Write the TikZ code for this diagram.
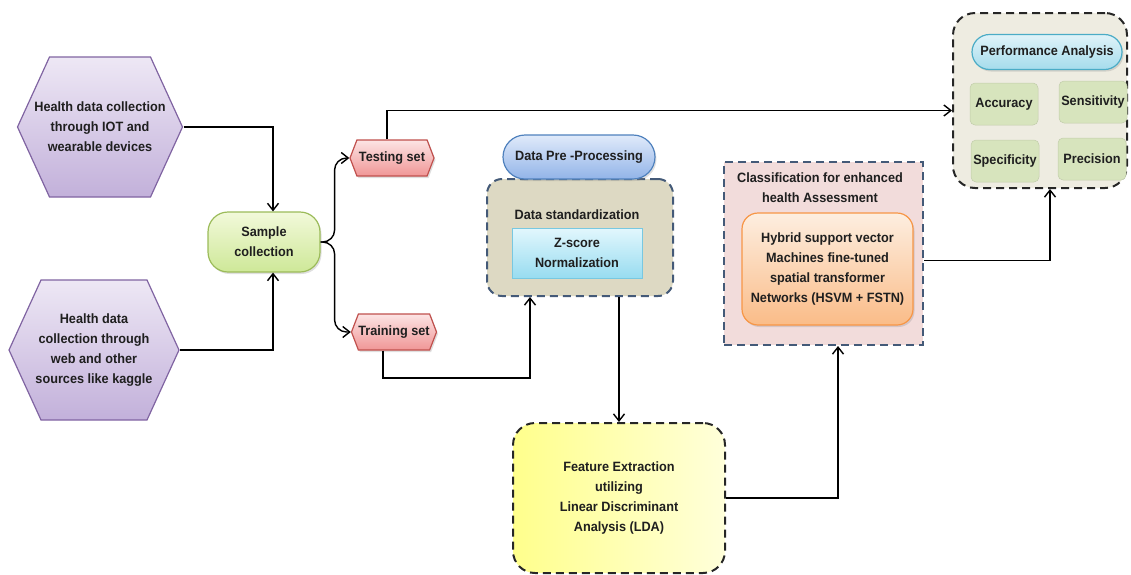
\documentclass[tikz,border=0pt]{standalone}
\usepackage{fontspec}
\setmainfont{Liberation Sans}[FakeStretch=0.94]
\usetikzlibrary{shapes.symbols,shapes.misc,arrows.meta,shadows}

\definecolor{hexdraw}{RGB}{128,100,162}
\definecolor{hextop}{RGB}{238,232,245}
\definecolor{hexbot}{RGB}{194,176,218}
\definecolor{smpdraw}{RGB}{155,187,89}
\definecolor{smptop}{RGB}{242,249,218}
\definecolor{smpbot}{RGB}{206,232,152}
\definecolor{setdraw}{RGB}{192,80,77}
\definecolor{settop}{RGB}{252,228,228}
\definecolor{setbot}{RGB}{240,150,150}
\definecolor{prepdraw}{RGB}{79,129,189}
\definecolor{preptop}{RGB}{224,234,250}
\definecolor{prepbot}{RGB}{146,180,232}
\definecolor{tanfill}{RGB}{221,217,195}
\definecolor{boxdash}{RGB}{68,90,120}
\definecolor{zdraw}{RGB}{120,200,225}
\definecolor{ztop}{RGB}{226,247,253}
\definecolor{zbot}{RGB}{152,220,240}
\definecolor{featop}{RGB}{255,255,140}
\definecolor{feabot}{RGB}{255,255,218}
\definecolor{clsfill}{RGB}{242,220,219}
\definecolor{hsdraw}{RGB}{247,150,70}
\definecolor{hstop}{RGB}{253,238,224}
\definecolor{hsbot}{RGB}{250,188,136}
\definecolor{perffill}{RGB}{238,236,225}
\definecolor{padraw}{RGB}{75,172,198}
\definecolor{patop}{RGB}{224,243,249}
\definecolor{pabot}{RGB}{165,220,236}
\definecolor{metfill}{RGB}{215,228,189}

\tikzset{
  lbl/.style={font=\bfseries\fontsize{13.5}{20}\selectfont, text=black!88, align=center},
  soft/.style={drop shadow={opacity=0.25, shadow xshift=1.5pt, shadow yshift=-2pt}},
  % flat-topped hexagon drawn inside the node box
  hexbox/.style={lbl, rectangle, inner sep=0pt, path picture={
    \path[top color=hextop, bottom color=hexbot, draw=hexdraw, line width=1.2pt]
      ([xshift=1pt]path picture bounding box.west)
      -- ([xshift=33pt,yshift=-1pt]path picture bounding box.north west)
      -- ([xshift=-33pt,yshift=-1pt]path picture bounding box.north east)
      -- ([xshift=-1pt]path picture bounding box.east)
      -- ([xshift=-33pt,yshift=1pt]path picture bounding box.south east)
      -- ([xshift=33pt,yshift=1pt]path picture bounding box.south west) -- cycle;}},
  setbox/.style={lbl, soft, shape=signal, signal to=west and east, signal pointer angle=138,
    draw=setdraw, line width=1.2pt, top color=settop, bottom color=setbot, inner sep=0pt,
    minimum width=84pt, minimum height=36pt},
  smpbox/.style={lbl, soft, rectangle, rounded corners=20pt, draw=smpdraw, line width=1.2pt,
    top color=smptop, bottom color=smpbot, minimum width=112pt, minimum height=60pt},
  pillbox/.style={lbl, soft, rounded rectangle, line width=1.2pt, inner sep=0pt},
  metbox/.style={lbl, rectangle, rounded corners=5pt, fill=metfill, draw=metfill!90!black,
    line width=0.5pt, minimum width=68pt, minimum height=42pt, inner sep=1pt},
  dashbox/.style={rectangle, line width=2pt, dash pattern=on 8pt off 5pt},
  arr/.style={line width=1.4pt, -{Straight Barb[length=7pt,width=11pt]}},
}

\begin{document}
\begin{tikzpicture}[x=1pt,y=-1pt]
  \useasboundingbox (0,0) rectangle (1131,574);

  % sources
  \node[hexbox, minimum width=167pt, minimum height=142pt] (iot) at (100,127)
    {Health data collection\\through IOT and\\wearable devices};
  \node[hexbox, minimum width=172pt, minimum height=142pt] (web) at (94,350)
    {Health data\\collection through\\web and other\\sources like kaggle};
  \node[smpbox] (sample) at (264,242) {Sample\\collection};

  % split
  \node[setbox] (test) at (392,158) {Testing set};
  \node[setbox] (train) at (394,332) {Training set};

  % pre-processing
  \node[dashbox, draw=boxdash, fill=tanfill, rounded corners=15pt,
    minimum width=186pt, minimum height=117pt] (prepbox) at (580,237.5) {};
  \node[pillbox, draw=prepdraw, top color=preptop, bottom color=prepbot,
    minimum width=152pt, minimum height=44pt] (prep) at (579,157) {Data Pre -Processing};
  \node[lbl] (stdz) at (577,215) {Data standardization};
  \node[lbl, rectangle, draw=zdraw, line width=0.8pt, top color=ztop, bottom color=zbot,
    minimum width=130pt, minimum height=50pt] (zscore) at (577,253) {Z-score\\Normalization};

  % features
  \node[lbl, dashbox, draw=black!85, rounded corners=22pt, left color=featop, right color=feabot,
    minimum width=212pt, minimum height=150pt] (feature) at (619,498)
    {Feature Extraction\\utilizing\\Linear Discriminant\\Analysis (LDA)};

  % classification
  \node[dashbox, draw=boxdash, fill=clsfill, minimum width=199pt, minimum height=183pt]
    (clsbox) at (823.5,253.5) {};
  \node[lbl] (clstitle) at (820,188) {Classification for enhanced\\health Assessment};
  \node[lbl, soft, rectangle, rounded corners=16pt, draw=hsdraw, line width=1.2pt,
    top color=hstop, bottom color=hsbot, minimum width=171pt, minimum height=112pt] (hsvm)
    at (827.5,269) {Hybrid support vector\\Machines fine-tuned\\spatial transformer\\Networks (HSVM + FSTN)};

  % performance
  \node[dashbox, draw=black!85, fill=perffill, rounded corners=22pt,
    minimum width=174pt, minimum height=175pt] (perfbox) at (1040,100.5) {};
  \node[pillbox, draw=padraw, top color=patop, bottom color=pabot,
    minimum width=150pt, minimum height=35pt] (perf) at (1047,52) {Performance Analysis};
  \node[metbox] (acc) at (1004,104) {Accuracy};
  \node[metbox] (sens) at (1093,102) {Sensitivity};
  \node[metbox] (spec) at (1005,161) {Specificity};
  \node[metbox] (prec) at (1092,159) {Precision};

  % connectors
  \draw[arr] (iot.east) -| ([xshift=9pt]sample.north);
  \draw[arr] (web.east) -| ([xshift=9pt]sample.south);
  \draw[arr, rounded corners=12pt] (sample.east) -- ++(14,0) |- (test.west);
  \draw[arr, rounded corners=12pt] (sample.east) -- ++(14,0) |- (train.west);
  \draw[arr] ([xshift=-5pt]test.north) |- ([yshift=-10pt]perfbox.west);
  \coordinate (trcorner) at (530,378);
  \draw[arr] ([xshift=-11pt]train.south) |- (trcorner) -- (trcorner |- prepbox.south);
  \draw[arr] (feature.north |- prepbox.south) -- (feature.north);
  \draw[arr] (feature.east) -| ([xshift=14.5pt]clsbox.south);
  \draw[arr] ([yshift=-7pt]clsbox.east) -| ([xshift=10pt]perfbox.south);
\end{tikzpicture}
\end{document}
